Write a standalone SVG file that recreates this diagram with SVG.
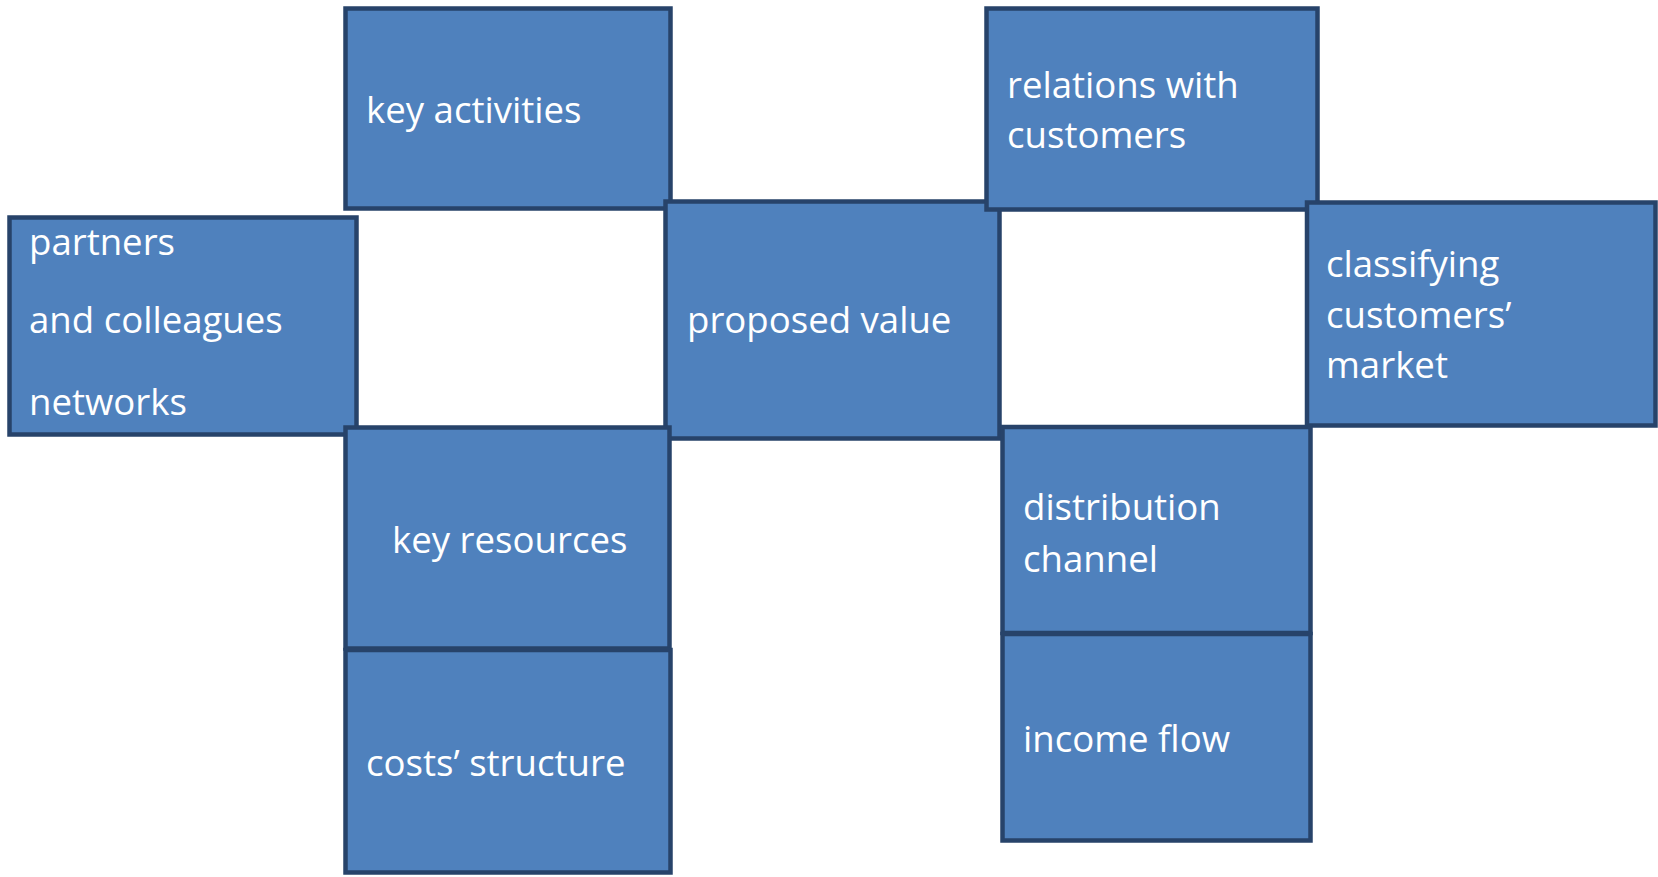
<svg xmlns="http://www.w3.org/2000/svg" width="1658" height="877" viewBox="0 0 1658 877">
<style>
.box{fill:#4f81bd;stroke:#27436a;stroke-width:4.5}
.lbl{font-family:"Open Sans","Liberation Sans",sans-serif;font-size:36.6px;fill:#ffffff}
</style>
<rect width="1658" height="877" fill="#ffffff"/>
<g id="connectors"></g>
<g id="partners">
<rect class="box" x="9.5" y="217.5" width="347" height="217"/>
<text class="lbl" x="29" y="255">partners</text>
<text class="lbl" x="29" y="333">and colleagues</text>
<text class="lbl" x="29" y="415">networks</text>
</g>
<g id="key-activities">
<rect class="box" x="345.5" y="8.5" width="325" height="200"/>
<text class="lbl" x="366" y="123">key activities</text>
</g>
<g id="proposed-value">
<rect class="box" x="665.5" y="201.5" width="334" height="237"/>
<text class="lbl" x="687" y="333">proposed value</text>
</g>
<g id="key-resources">
<rect class="box" x="345.5" y="427.5" width="324" height="221"/>
<text class="lbl" x="392" y="553">key resources</text>
</g>
<g id="costs-structure">
<rect class="box" x="345.5" y="650" width="325" height="222.5"/>
<text class="lbl" x="366" y="776">costs’ structure</text>
</g>
<g id="relations">
<rect class="box" x="986.5" y="8.5" width="331" height="201"/>
<text class="lbl" x="1007" y="98">relations with</text>
<text class="lbl" x="1007" y="148">customers</text>
</g>
<g id="classifying">
<rect class="box" x="1307" y="202.5" width="348.5" height="223"/>
<text class="lbl" x="1326" y="277">classifying</text>
<text class="lbl" x="1326" y="328">customers’</text>
<text class="lbl" x="1326" y="378">market</text>
</g>
<g id="distribution">
<rect class="box" x="1002.5" y="427" width="308" height="206"/>
<text class="lbl" x="1023" y="520">distribution</text>
<text class="lbl" x="1023" y="572">channel</text>
</g>
<g id="income-flow">
<rect class="box" x="1002.5" y="634" width="308" height="206.5"/>
<text class="lbl" x="1023" y="752">income flow</text>
</g>
</svg>
